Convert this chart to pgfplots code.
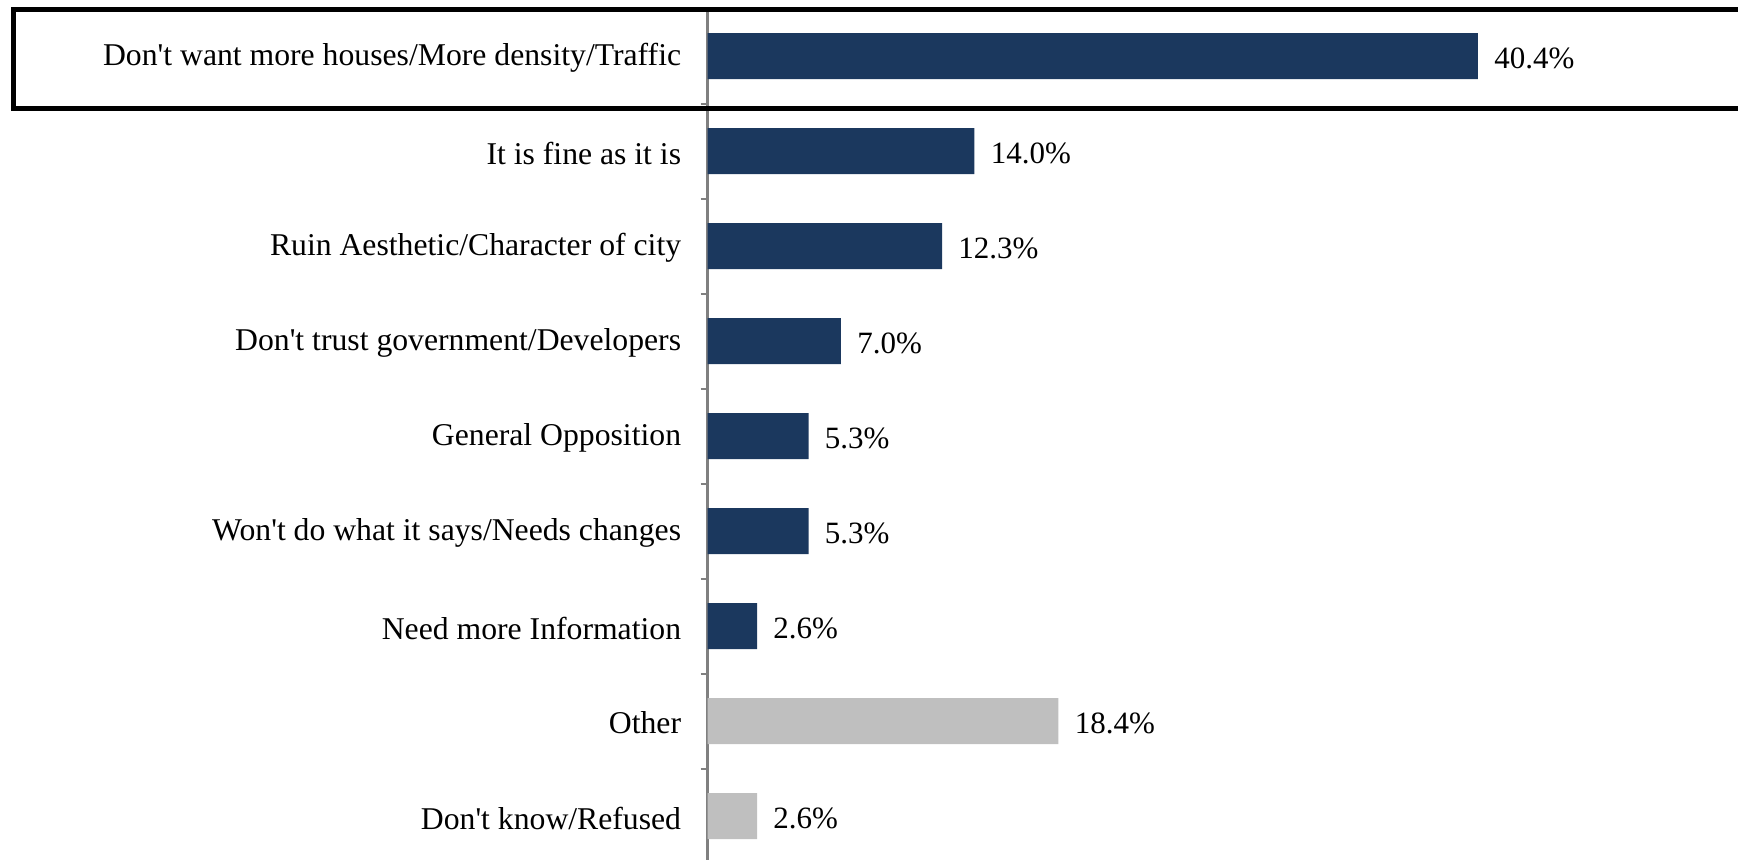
\documentclass[border=0pt]{standalone}
\usepackage{fontspec}
\setmainfont{Liberation Serif}[Ligatures=TeXOff]
\usepackage{pgfplots}
\pgfplotsset{compat=1.18}
\definecolor{navy}{RGB}{27,56,94}
\definecolor{lgray}{RGB}{191,191,191}
\definecolor{axgray}{RGB}{128,128,128}
\begin{document}
\begin{tikzpicture}
\begin{axis}[
  at={(353.75pt,-2.25pt)}, anchor=south west,
  scale only axis, width=515.25pt, height=427.5pt,
  xmin=0, xmax=54.04, ymin=-0.5, ymax=8.5, y dir=reverse,
  axis x line=none, axis y line*=left,
  y axis line style={draw=axgray, line width=1.5pt, -},
  ytick={0,...,8},
  yticklabels={Don't want more houses/More density/Traffic, It is fine as it is, Ruin Aesthetic/Character of city, Don't trust government/Developers, General Opposition, Won't do what it says/Needs changes, Need more Information, Other, Don't know/Refused},
  minor ytick={0.5,1.5,...,7.5},
  major tick length=0pt, minor tick length=3.5pt, tick align=outside,
  minor tick style={draw=axgray, line width=1pt},
  yticklabel style={font=\fontsize{15.85}{18}\selectfont, anchor=east, inner sep=0pt, xshift=-13pt, yshift=-1pt},
  xbar, bar width=23pt,
  nodes near coords={\pgfmathprintnumber[fixed,fixed zerofill,precision=1]{\pgfplotspointmeta}\%},
  nodes near coords style={font=\fontsize{15.5}{18}\selectfont, anchor=west, inner sep=0pt, xshift=8pt, yshift=-1pt, text=black},
  /pgf/number format/assume math mode=true,
  clip=false,
]
\addplot[fill=navy, draw=none, bar shift=0pt] coordinates {(40.4,0) (14.0,1) (12.3,2) (7.0,3) (5.3,4) (5.3,5) (2.6,6)};
\addplot[fill=lgray, draw=none, bar shift=0pt] coordinates {(18.4,7) (2.6,8)};
\end{axis}
\draw[line width=2.5pt] (6.5pt,375.25pt) rectangle (880pt,424.5pt);
\pgfresetboundingbox
\path[use as bounding box] (0,0) rectangle (869pt,429.5pt);
\end{tikzpicture}
\end{document}
